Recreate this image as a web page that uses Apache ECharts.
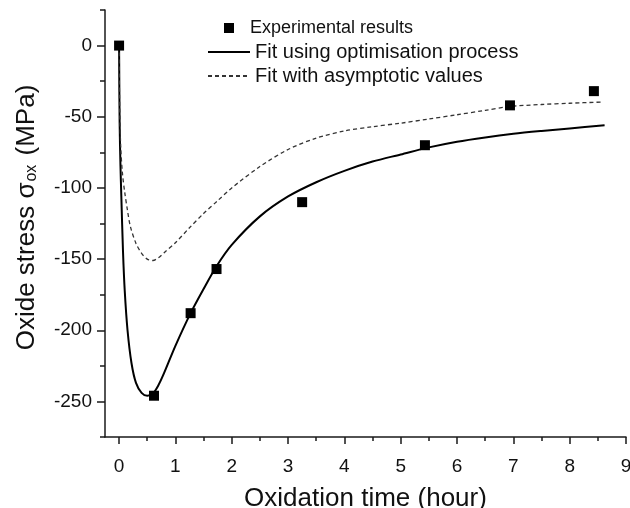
<!DOCTYPE html>
<html>
<head>
<meta charset="utf-8">
<script src="https://cdn.jsdelivr.net/npm/echarts@6/dist/echarts.min.js"></script>
<style>
html,body{margin:0;padding:0;background:#fff;}
#chart{width:630px;height:508px;}
</style>
</head>
<body>
<div id="chart"></div>
<script>
// Experimental data
var expX = [0, 0.62, 1.27, 1.73, 3.25, 5.43, 6.94, 8.43];
var expY = [0, -246, -188, -157, -110, -70, -42, -32];

// Fit using optimisation process (solid)
var fitOptX = [0, 0.01, 0.025, 0.04, 0.07, 0.1, 0.15, 0.22, 0.3, 0.4, 0.5, 0.6, 0.7, 0.8, 1.0, 1.27, 1.5, 1.73, 2.0, 2.5, 3.0, 3.5, 4.0, 4.5, 5.0, 5.5, 6.0, 6.5, 7.0, 7.5, 8.0, 8.62];
var fitOptY = [0, -55, -85, -106, -145, -172, -200, -223, -237, -244, -246, -244.5, -238.5, -230, -211, -188, -171, -155, -140, -120, -106, -96, -88, -81.5, -76.5, -71.5, -67.5, -64.5, -62, -60, -58.2, -56];

// Fit with asymptotic values (dashed)
var fitAsyX = [0, 0.01, 0.03, 0.06, 0.1, 0.15, 0.2, 0.3, 0.4, 0.5, 0.6, 0.7, 0.8, 1.0, 1.25, 1.5, 1.75, 2.0, 2.5, 3.0, 3.5, 4.0, 4.5, 5.0, 5.5, 6.0, 6.5, 6.94, 7.5, 8.0, 8.55];
var fitAsyY = [0, -43, -72, -90, -103, -116, -127, -139, -146, -150, -151, -149, -145.5, -138.5, -128, -118, -109, -100, -85, -73, -65, -60, -57, -54.5, -51.6, -48.6, -45.5, -42.8, -41.4, -40.5, -39.7];

// Axis ticks
var xMajor = [0, 1, 2, 3, 4, 5, 6, 7, 8, 9];
var xMinor = [0.5, 1.5, 2.5, 3.5, 4.5, 5.5, 6.5, 7.5, 8.5];
var yMajor = [-250, -200, -150, -100, -50, 0];
var yMinor = [-275, -225, -175, -125, -75, -25, 25];

var seriesNames = ['Experimental results', 'Fit using optimisation process', 'Fit with asymptotic values'];

function zip(a, b) { return a.map(function (v, i) { return [v, b[i]]; }); }

var FONT = '"Liberation Sans", Arial, sans-serif';
var axisColor = '#1a1a1a';

var chart = echarts.init(document.getElementById('chart'), null, {renderer: 'canvas'});
var option = {
  animation: false,
  backgroundColor: '#fff',
  textStyle: {fontFamily: FONT, color: '#111'},
  grid: {left: 105, right: 4, top: 10, bottom: 71, containLabel: false, outerBoundsMode: 'none'},
  legend: [
    {
      data: [seriesNames[0]],
      left: 224, top: 19, padding: 0,
      orient: 'vertical',
      itemWidth: 10, itemHeight: 10,
      icon: 'rect',
      itemStyle: {color: '#000', opacity: 1},
      textStyle: {fontFamily: FONT, fontSize: 18, color: '#111', padding: [0, 0, 0, 11]},
      selectedMode: false
    },
    {
      data: [seriesNames[1], seriesNames[2]],
      left: 207, top: 42, padding: 0,
      orient: 'vertical',
      itemWidth: 42, itemHeight: 14, itemGap: 4,
      itemStyle: {opacity: 0},
      textStyle: {fontFamily: FONT, fontSize: 20, color: '#111'},
      selectedMode: false
    }
  ],
  xAxis: [
    {
      type: 'value', min: -0.25, max: 9, position: 'bottom',
      name: 'Oxidation time (hour)', nameLocation: 'middle', nameGap: 49,
      nameTextStyle: {fontFamily: FONT, fontSize: 26, color: '#111'},
      axisLine: {show: true, onZero: false, lineStyle: {color: axisColor, width: 1.5}},
      axisTick: {show: true, length: 7, customValues: xMajor, lineStyle: {color: axisColor, width: 1.5}},
      axisLabel: {customValues: xMajor, margin: 20, fontFamily: FONT, fontSize: 19, color: '#111'},
      splitLine: {show: false}
    },
    {
      type: 'value', min: -0.25, max: 9, position: 'bottom',
      axisLine: {show: false, onZero: false},
      axisTick: {show: true, length: 4, customValues: xMinor, lineStyle: {color: axisColor, width: 1.5}},
      axisLabel: {show: false},
      splitLine: {show: false}
    }
  ],
  yAxis: [
    {
      type: 'value', min: -275, max: 25, position: 'left',
      name: 'Oxide stress σ{sub|ox} (MPa)', nameLocation: 'middle', nameGap: 65,
      nameTextStyle: {
        fontFamily: FONT, fontSize: 26, color: '#111', padding: [0, 0, 0, 12],
        rich: {sub: {fontFamily: FONT, fontSize: 16, color: '#111', verticalAlign: 'bottom', padding: [9, 2, 0, 1]}}
      },
      axisLine: {show: true, onZero: false, lineStyle: {color: axisColor, width: 1.5}},
      axisTick: {show: true, length: 8, customValues: yMajor, lineStyle: {color: axisColor, width: 1.5}},
      axisLabel: {customValues: yMajor, margin: 13, fontFamily: FONT, fontSize: 19, color: '#111'},
      splitLine: {show: false}
    },
    {
      type: 'value', min: -275, max: 25, position: 'left',
      axisLine: {show: false, onZero: false},
      axisTick: {show: true, length: 5, customValues: yMinor, lineStyle: {color: axisColor, width: 1.5}},
      axisLabel: {show: false},
      splitLine: {show: false}
    }
  ],
  series: [
    {
      name: seriesNames[1], type: 'line', xAxisIndex: 0, yAxisIndex: 0,
      data: zip(fitOptX, fitOptY), symbol: 'none', smooth: 0.3,
      lineStyle: {color: '#000', width: 2}, itemStyle: {color: '#000'}, z: 2
    },
    {
      name: seriesNames[2], type: 'line', xAxisIndex: 0, yAxisIndex: 0,
      data: zip(fitAsyX, fitAsyY), symbol: 'none', smooth: 0.3,
      lineStyle: {color: '#333', width: 1.3, type: [4, 3]}, itemStyle: {color: '#333'}, z: 2
    },
    {
      name: seriesNames[0], type: 'scatter', xAxisIndex: 0, yAxisIndex: 0,
      data: zip(expX, expY), symbol: 'rect', symbolSize: 10,
      itemStyle: {color: '#000', opacity: 1}, z: 3
    }
  ]
};
chart.setOption(option);
</script>
</body>
</html>
